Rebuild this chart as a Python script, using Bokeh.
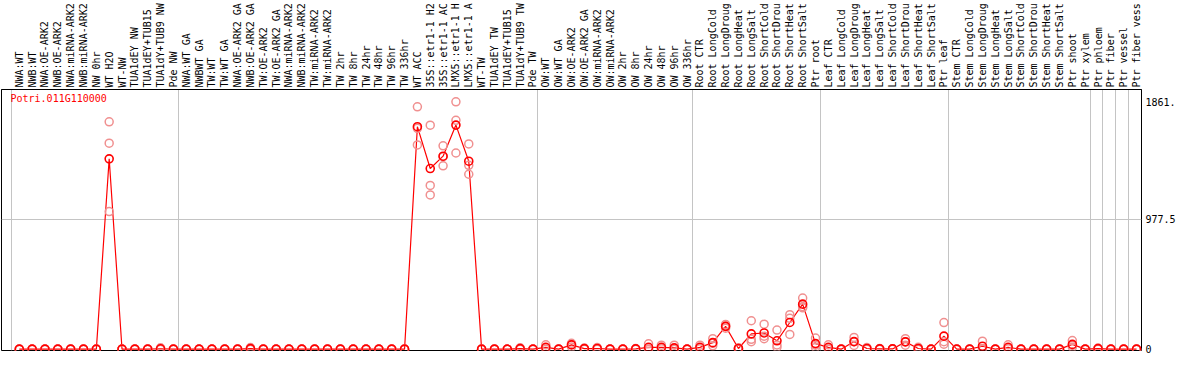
import numpy as np
from bokeh.plotting import figure
from bokeh.models import FixedTicker, LinearAxis, Range1d, Label, Grid, ColumnDataSource
from bokeh.embed import file_html
from bokeh.resources import INLINE

gene = "Potri.011G110000"

samples = [
    "NWA:WT", "NWB:WT", "NWA:OE-ARK2", "NWB:OE-ARK2", "NWA:miRNA-ARK2", "NWB:miRNA-ARK2",
    "NW 0hr", "WT H2O", "WT-NW", "TUA1dEY NW", "TUA1dEY+TUB15", "TUA1dY+TUB9 NW", "Pde NW",
    "NWA:WT GA", "NWBWT GA", "TW:WT", "TW:WT GA", "NWA:OE-ARK2 GA", "NWB:OE-ARK2 GA",
    "TW:OE-ARK2", "TW:OE-ARK2 GA", "NWA:miRNA-ARK2", "NWB:miRNA-ARK2", "TW:miRNA-ARK2",
    "TW:miRNA-ARK2", "TW 2hr", "TW 8hr", "TW 24hr", "TW 48hr", "TW 96hr", "TW 336hr",
    "WT ACC", "35S::etr1-1 H2", "35S::etr1-1 AC", "LMX5::etr1-1 H", "LMX5::etr1-1 A",
    "WT-TW", "TUA1dEY TW", "TUA1dEY+TUB15", "TUA1dY+TUB9 TW", "Pde TW",
    "OW:WT", "OW:WT GA", "OW:OE-ARK2", "OW:OE-ARK2 GA", "OW:miRNA-ARK2", "OW:miRNA-ARK2",
    "OW 2hr", "OW 8hr", "OW 24hr", "OW 48hr", "OW 96hr", "OW 336hr",
    "Root CTR", "Root LongCold", "Root LongDroug", "Root LongHeat", "Root LongSalt",
    "Root ShortCold", "Root ShortDrou", "Root ShortHeat", "Root ShortSalt", "Ptr root",
    "Leaf CTR", "Leaf LongCold", "Leaf LongDroug", "Leaf LongHeat", "Leaf LongSalt",
    "Leaf ShortCold", "Leaf ShortDrou", "Leaf ShortHeat", "Leaf ShortSalt", "Ptr leaf",
    "Stem CTR", "Stem LongCold", "Stem LongDroug", "Stem LongHeat", "Stem LongSalt",
    "Stem ShortCold", "Stem ShortDrou", "Stem ShortHeat", "Stem ShortSalt", "Ptr shoot",
    "Ptr xylem", "Ptr phloem", "Ptr fiber", "Ptr vessel", "Ptr fiber vess",
]

# replicate values (3 per sample)
rep1 = [0, 0, 0, 0, 0, 0, 0, 1712, 0, 0, 0, 10, 0,
        0, 0, 0, 0, 0, 12, 0, 0, 0, 0, 0, 0, 0, 0, 0, 0, 0, 0,
        1825, 1686, 1531, 1861.9, 1545, 0, 0, 0, 10, 0,
        33, 0, 44, 8, 12, 0, 0, 5, 40, 30, 30, 0,
        30, 79, 186, 10, 214, 188, 144, 260, 385, 84,
        33, 0, 88, 12, 5, 4, 79, 14, 0, 200,
        0, 0, 60, 0, 33, 0, 0, 0, 0, 65,
        0, 8, 0, 0, 0]
rep2 = [0, 0, 0, 0, 0, 0, 0, 1551, 0, 0, 0, 0, 0,
        0, 0, 0, 0, 0, 0, 0, 0, 0, 0, 0, 0, 0, 0, 0, 0, 0, 0,
        1663, 1233, 1449, 1723, 1384, 0, 0, 0, 2, 0,
        8, 0, 36, 4, 3, 0, 0, 0, 2, 8, 0, 0,
        8, 44, 172, 4, 74, 98, 32, 232, 320, 30,
        8, 0, 56, 3, 0, 2, 56, 0, 0, 56,
        0, 0, 5, 0, 6, 0, 0, 0, 0, 28,
        0, 4, 0, 0, 0]
rep3 = [0, 0, 0, 0, 0, 0, 0, 1036, 0, 0, 0, 0, 0,
        0, 0, 0, 0, 0, 0, 0, 0, 0, 0, 0, 0, 0, 0, 0, 0, 0, 0,
        1538, 1161, 1380, 1477, 1317, 0, 0, 0, 0, 0,
        0, 0, 16, 0, 0, 0, 0, 0, 0, 4, 0, 0,
        4, 25, 158, 0, 56, 79, 14, 111, 311, 12,
        0, 0, 28, 0, 0, 0, 30, 0, 0, 37,
        0, 0, 0, 0, 4, 0, 0, 0, 0, 14,
        0, 0, 0, 0, 0]
# mean expression per sample
means = [0, 0, 0, 0, 0, 0, 0, 1433, 0, 0, 0, 3, 0,
         0, 0, 0, 0, 0, 4, 0, 0, 0, 0, 0, 0, 0, 0, 0, 0, 0, 0,
         1675, 1360, 1453, 1687, 1415, 0, 0, 0, 4, 0,
         14, 0, 32, 4, 5, 0, 0, 2, 14, 14, 10, 0,
         14, 49, 172, 5, 115, 122, 63, 201, 339, 42,
         14, 0, 57, 5, 2, 2, 55, 5, 0, 98,
         0, 0, 22, 0, 14, 0, 0, 0, 0, 36,
         0, 4, 0, 0, 0]

# number of samples preceding each group separator
group_breaks = [0, 13, 41, 53, 63, 73, 84, 85, 86, 87, 88]

y_ticks = [0, 977.5, 1861.9]
y_tick_text = {0: "0", 977.5: "977.5", 1861.9: "1861."}
y_top = 1955

mono = "DejaVu Sans Mono"
xs = list(range(1, len(samples) + 1))

p = figure(width=1178, height=354, output_backend="svg", toolbar_location=None,
           x_range=Range1d(-0.385, len(samples) + 0.385), y_range=Range1d(-10, y_top),
           x_axis_location=None, y_axis_location=None,
           min_border_left=1, min_border_right=0, min_border_top=0, min_border_bottom=4)
p.xgrid.visible = False
p.ygrid.visible = False
p.outline_line_color = "black"
p.outline_line_width = 1
p.background_fill_color = "white"
p.border_fill_color = "white"

p.add_layout(Grid(dimension=0, ticker=FixedTicker(ticks=[b + 0.385 for b in group_breaks]),
                  grid_line_color="#c4c4c4", grid_line_width=1))
p.add_layout(Grid(dimension=1, ticker=FixedTicker(ticks=[977.5]),
                  grid_line_color="#c4c4c4", grid_line_width=1))

top_axis = LinearAxis(ticker=FixedTicker(ticks=xs),
                      major_label_overrides={x: s for x, s in zip(xs, samples)},
                      major_label_orientation="vertical",
                      major_tick_line_color=None, minor_tick_line_color=None,
                      major_tick_out=0, major_tick_in=0, minor_tick_out=0, minor_tick_in=0,
                      axis_line_color="black", axis_label_standoff=0,
                      major_label_text_font=mono, major_label_text_font_size="10px",
                      major_label_text_color="black", major_label_standoff=2)
p.add_layout(top_axis, "above")

right_axis = LinearAxis(ticker=FixedTicker(ticks=y_ticks),
                        major_label_overrides=y_tick_text,
                        major_tick_line_color=None, minor_tick_line_color=None,
                        major_tick_out=0, major_tick_in=0, minor_tick_out=0, minor_tick_in=0,
                        axis_line_color=None, axis_label_standoff=0,
                        major_label_text_font=mono, major_label_text_font_size="10px",
                        major_label_text_color="black", major_label_standoff=4)
p.add_layout(right_axis, "right")

src = ColumnDataSource(dict(x=xs, m=means, r1=rep1, r2=rep2, r3=rep3))

p.line("x", "m", source=src, line_color="red", line_width=1.2)
for col in ["r1", "r2", "r3"]:
    p.scatter("x", col, source=src, size=8, marker="circle", fill_alpha=0,
              line_color="#f09090", line_width=1.5)
p.scatter("x", "m", source=src, size=8, marker="circle", fill_alpha=0,
          line_color="red", line_width=1.6)

p.add_layout(Label(x=p.x_range.start, y=y_top, x_offset=9, y_offset=-9, text=gene,
                   text_color="red", text_font=mono, text_font_size="10px",
                   text_baseline="middle", text_align="left"))

open("out.html", "w").write(file_html(p, INLINE))
